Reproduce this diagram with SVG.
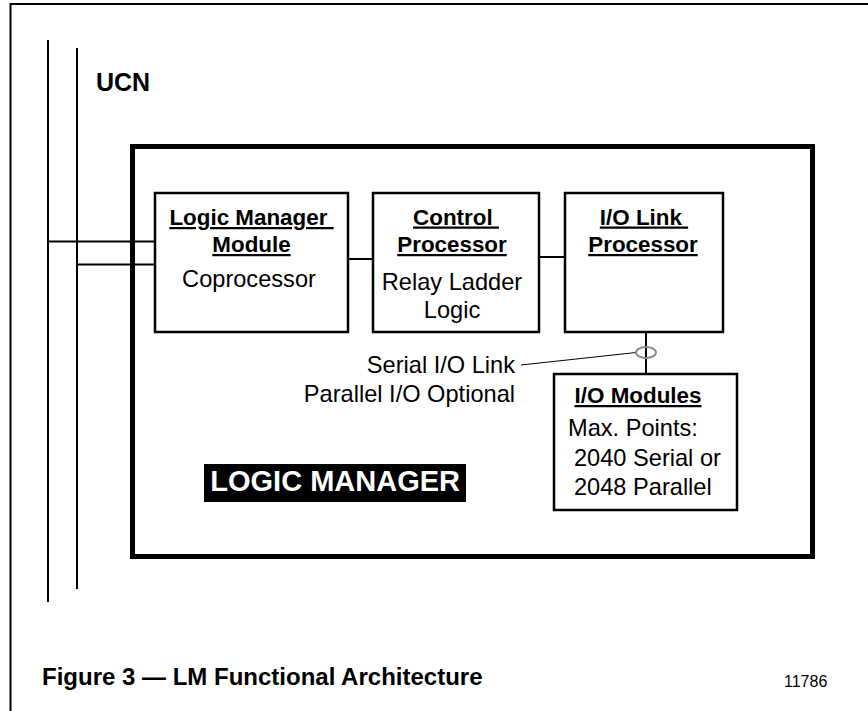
<svg xmlns="http://www.w3.org/2000/svg" width="868" height="711" viewBox="0 0 868 711">
<style>
.ln{stroke:#000;stroke-width:2;fill:none}
.box{fill:#fff;stroke:#000;stroke-width:2.5}
.hd{font-family:"Liberation Sans",Arial,sans-serif;font-weight:bold;font-size:22.4px;text-decoration:underline;text-anchor:middle;fill:#000}
.tx{font-family:"Liberation Sans",Arial,sans-serif;font-size:23.6px;fill:#000}
.mid{text-anchor:middle}
.end{text-anchor:end}
.cap{font-family:"Liberation Sans",Arial,sans-serif;fill:#000}
</style>
<rect width="868" height="711" fill="#fff"/>
<g id="frame"><path d="M10.5 711V4H868" class="ln"/></g>
<g id="ucn">
<line x1="48" y1="40" x2="48" y2="602" class="ln"/>
<line x1="77" y1="48" x2="77" y2="589" class="ln"/>
<text x="96" y="91" font-family="Liberation Sans,Arial,sans-serif" font-weight="bold" font-size="25">UCN</text>
</g>
<g id="logic-manager">
<rect x="132.5" y="146.5" width="680" height="410" fill="none" stroke="#000" stroke-width="5"/>
<rect x="204" y="464" width="262" height="38" fill="#000"/>
<text x="460" y="491" text-anchor="end" font-family="Liberation Sans,Arial,sans-serif" font-weight="bold" font-size="29" fill="#fff">LOGIC MANAGER</text>
</g>
<g id="connectors">
<line x1="48" y1="241.5" x2="155" y2="241.5" class="ln"/>
<line x1="77" y1="264.5" x2="155" y2="264.5" class="ln"/>
<line x1="348" y1="259" x2="373" y2="259" class="ln"/>
<line x1="539" y1="257" x2="565" y2="257" class="ln"/>
<line x1="646" y1="332" x2="646" y2="374" class="ln"/>
<line x1="521" y1="365" x2="636" y2="352.5" stroke="#000" stroke-width="1"/>
<ellipse cx="646" cy="352.5" rx="10" ry="5.5" fill="none" stroke="#888" stroke-width="2"/>
</g>
<g id="lmm">
<rect x="155" y="193" width="193" height="139" class="box"/>
<text x="251.5" y="225" class="hd" xml:space="preserve">Logic Manager </text>
<text x="251.5" y="252" class="hd">Module</text>
<text x="249" y="287" class="tx mid">Coprocessor</text>
</g>
<g id="cp">
<rect x="373" y="193" width="166" height="139" class="box"/>
<text x="456" y="224.5" class="hd" xml:space="preserve">Control </text>
<text x="452" y="252" class="hd">Processor</text>
<text x="452" y="290" class="tx mid">Relay Ladder</text>
<text x="452" y="318" class="tx mid">Logic</text>
</g>
<g id="iolp">
<rect x="565" y="193" width="158" height="139" class="box"/>
<text x="644" y="224.5" class="hd" xml:space="preserve">I/O Link </text>
<text x="643" y="252" class="hd">Processor</text>
</g>
<g id="link-label">
<text x="515" y="373" class="tx end">Serial I/O Link</text>
<text x="515" y="402" class="tx end">Parallel I/O Optional</text>
</g>
<g id="iom">
<rect x="554" y="374" width="183" height="136" class="box"/>
<text x="638" y="403" class="hd">I/O Modules</text>
<text x="568" y="436" class="tx">Max. Points:</text>
<text x="574" y="466" class="tx">2040 Serial or</text>
<text x="574" y="495" class="tx">2048 Parallel</text>
</g>
<g id="caption">
<text x="42" y="685" class="cap" font-size="24" font-weight="bold">Figure 3 — LM Functional Architecture</text>
<text x="784" y="686.5" class="cap" font-size="16">11786</text>
</g>
</svg>
